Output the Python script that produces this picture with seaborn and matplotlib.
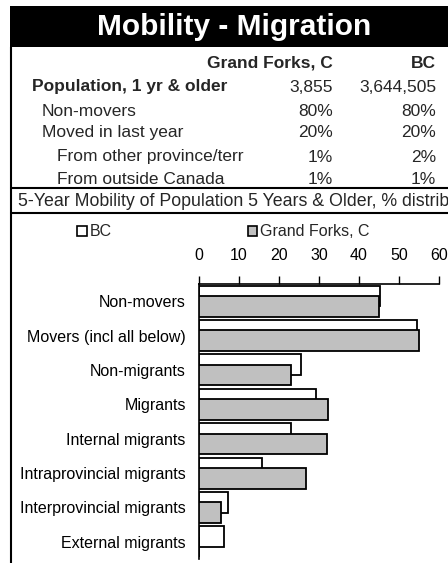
import matplotlib
matplotlib.use("Agg")
import matplotlib.pyplot as plt
import seaborn as sns
import pandas as pd
from matplotlib.patches import Rectangle, Patch
from matplotlib.lines import Line2D

categories = ["Non-movers", "Movers (incl all below)", "Non-migrants", "Migrants",
              "Internal migrants", "Intraprovincial migrants", "Interprovincial migrants",
              "External migrants"]
bc_values = [45.3, 54.5, 25.4, 29.2, 23.0, 15.7, 7.3, 6.2]
gf_values = [44.9, 55.0, 23.0, 32.2, 32.0, 26.7, 5.5, 0.0]
series_names = ["BC", "Grand Forks, C"]
x_ticks = [0, 10, 20, 30, 40, 50, 60]

table_title = "Mobility - Migration"
table_cols = ["Grand Forks, C", "BC"]
table_rows = ["Population, 1 yr & older", "Non-movers", "Moved in last year",
              "From other province/terr", "From outside Canada"]
table_gf = ["3,855", "80%", "20%", "1%", "1%"]
table_bc = ["3,644,505", "80%", "20%", "2%", "1%"]
subtitle = "5-Year Mobility of Population 5 Years & Older, % distribution"

sns.set_theme(style="white")
plt.rcParams['font.family'] = ['Liberation Sans', 'DejaVu Sans']

W, H = 448, 563
fig = plt.figure(figsize=(W / 100, H / 100), dpi=100)
fig.patch.set_facecolor("white")

def fx(px):
    return px / W

def fy(py):
    return 1 - py / H

# title band
fig.patches.append(Rectangle((fx(10), fy(47)), fx(W - 10) + 0.01, 41 / H,
                             transform=fig.transFigure, facecolor="black",
                             edgecolor="none", zorder=0))
fig.text(fx(234), fy(27), table_title, color="white", fontsize=21.5,
         fontweight="bold", ha="center", va="center")

# table
fig.text(fx(333), fy(63), table_cols[0], fontsize=12.5, fontweight="bold",
         ha="right", va="center")
fig.text(fx(436), fy(63), table_cols[1], fontsize=12.5, fontweight="bold",
         ha="right", va="center")
row_y = [87, 112, 133, 157, 180]
row_x = [32, 42, 42, 57, 57]
for i, lab in enumerate(table_rows):
    fig.text(fx(row_x[i]), fy(row_y[i]), lab, fontsize=12.5,
             fontweight="bold" if i == 0 else "normal", ha="left", va="center")
    fig.text(fx(333), fy(row_y[i]), table_gf[i], fontsize=12.5, ha="right", va="center")
    fig.text(fx(436), fy(row_y[i]), table_bc[i], fontsize=12.5, ha="right", va="center")

# frame lines
for yy in (188, 213):
    fig.add_artist(Line2D([fx(11), 1.01], [fy(yy), fy(yy)], color="black",
                          lw=1.5, transform=fig.transFigure))
fig.add_artist(Line2D([fx(11), fx(11)], [fy(47), -0.01], color="black",
                      lw=1.5, transform=fig.transFigure))
fig.text(fx(18), fy(201), subtitle, fontsize=12.8, ha="left", va="center")

# chart
ax = fig.add_axes([fx(199), fy(559), 240 / W, 275 / H])
df_bc = pd.DataFrame({"cat": categories, "val": bc_values})
df_gf = pd.DataFrame({"cat": categories, "val": gf_values})

sns.barplot(data=df_bc, y="cat", x="val", orient="h", order=categories,
            color="white", edgecolor="black", linewidth=1.3, width=0.6,
            errorbar=None, saturation=1, ax=ax)
n_bc = len(ax.patches)
for p in ax.patches:
    p.set_facecolor("white")
    p.set_y(p.get_y() - 0.15)
sns.barplot(data=df_gf, y="cat", x="val", orient="h", order=categories,
            color="#C0C0C0", edgecolor="black", linewidth=1.3, width=0.6,
            errorbar=None, saturation=1, ax=ax)
for p in ax.patches[n_bc:]:
    p.set_facecolor("#C0C0C0")
    p.set_y(p.get_y() + 0.15)
    p.set_zorder(3)

ax.set_xlim(0, 60)
ax.set_ylim(len(categories) - 0.5, -0.5)
ax.set_xticks(x_ticks)
ax.xaxis.tick_top()
ax.tick_params(axis="x", which="both", top=True, bottom=False, length=6,
               width=1, color="black", direction="out", labelsize=11.5, pad=9,
               labelcolor="black")
ax.tick_params(axis="y", length=0, labelsize=11.5, pad=9.5, labelcolor="black")
ax.set_xlabel("")
ax.set_ylabel("")
ax.set_facecolor("white")
for s in ("right", "bottom"):
    ax.spines[s].set_visible(False)
for s in ("left", "top"):
    ax.spines[s].set_visible(True)
    ax.spines[s].set_color("black")
    ax.spines[s].set_linewidth(1.2)

handles = [Patch(facecolor="white", edgecolor="black", linewidth=1.2),
           Patch(facecolor="#C0C0C0", edgecolor="black", linewidth=1.2)]
fig.legend(handles, series_names, loc="center left",
           bbox_to_anchor=(fx(77), fy(232)), ncol=2, frameon=False,
           fontsize=11.5, handlelength=0.6, handleheight=0.6,
           handletextpad=0.2, columnspacing=8.5, borderpad=0, borderaxespad=0)

fig.savefig("out.png", dpi=100, facecolor="white")
